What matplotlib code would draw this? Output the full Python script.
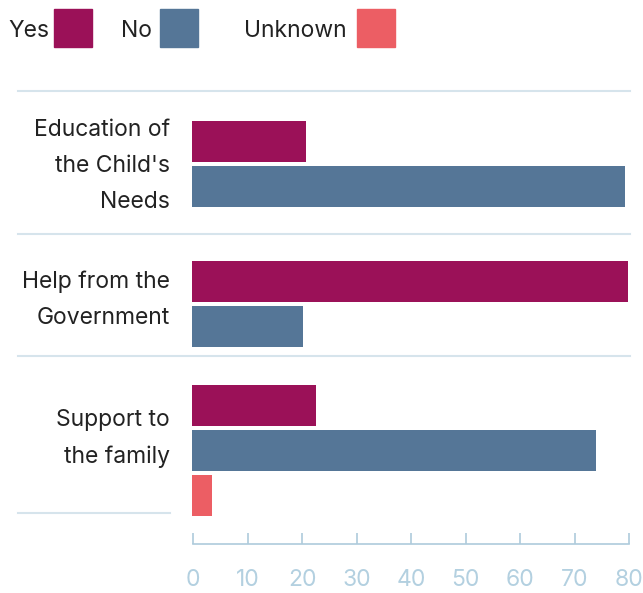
import numpy as np
import matplotlib
matplotlib.use("Agg")
import matplotlib.pyplot as plt
from matplotlib.patches import Rectangle

# data
categories = ["Education of\nthe Child's\nNeeds", "Help from the\nGovernment", "Support to\nthe family"]
series = ["Yes", "No", "Unknown"]
yes_vals = [20.8, 80.0, 22.7]
no_vals = [79.4, 20.2, 74.0]
unknown_vals = [0, 0, 3.6]
x_ticks = [0, 10, 20, 30, 40, 50, 60, 70, 80]

colors = {"Yes": "#9b1158", "No": "#557697", "Unknown": "#ec5e64"}
text_color = "#222222"
grid_color = "#d6e4ec"
axis_color = "#aecbdc"

plt.rcParams["font.family"] = ["Inter", "DejaVu Sans"]

W, H = 643, 593
fig = plt.figure(figsize=(W / 100, H / 100), dpi=100)

# overlay in pixel coords for labels, separators, legend
bg = fig.add_axes([0, 0, 1, 1])
bg.set_xlim(0, W)
bg.set_ylim(H, 0)
bg.axis("off")

# layout (pixels)
x0_px, x80_px = 193.3, 629.3
top_px, base_px = 90.5, 544
group_tops = [121, 261, 385]
pitch, bar_h = 45, 41
seps = [90.5, 234, 355.7]
zone_centers = [166, 299.5, 438.5]

ax = fig.add_axes([x0_px / W, (H - base_px) / H, (x80_px - x0_px) / W, (base_px - top_px) / H])
ax.set_xlim(0, 80)
ax.set_ylim(base_px, top_px)
ax.patch.set_alpha(0)

vals = {"Yes": yes_vals, "No": no_vals, "Unknown": unknown_vals}
for i in range(len(categories)):
    slot = 0
    for s in series:
        v = vals[s][i]
        if v <= 0:
            continue
        y = group_tops[i] + slot * pitch
        ax.barh(y, v, height=bar_h, align="edge", left=-0.15, color=colors[s], clip_on=False)
        slot += 1

for s in ["top", "right", "left"]:
    ax.spines[s].set_visible(False)
ax.spines["bottom"].set_color(axis_color)
ax.spines["bottom"].set_linewidth(1.2)
ax.set_yticks([])
ax.set_xticks(x_ticks)
ax.tick_params(axis="x", direction="in", length=8, width=1.2, color=axis_color,
               labelcolor="#b3d0e0", labelsize=16.5, pad=18)

# separators
for y in seps:
    bg.plot([18, 630], [y, y], color=grid_color, lw=1.5, zorder=0)
bg.plot([18, 170], [512.7, 512.7], color=grid_color, lw=1.5, zorder=0)

# category labels
for lab, yc in zip(categories, zone_centers):
    bg.text(170, yc, lab, ha="right", va="center", fontsize=16.5, color=text_color,
            linespacing=1.83)

# legend
legend_items = [("Yes", 8, 54), ("No", 121, 160), ("Unknown", 244, 357)]
for name, tx, sx in legend_items:
    bg.text(tx, 31, name, ha="left", va="center", fontsize=16.5, color=text_color)
    bg.add_patch(Rectangle((sx, 9), 38, 38, color=colors[name]))

fig.savefig("out.png", dpi=100)
